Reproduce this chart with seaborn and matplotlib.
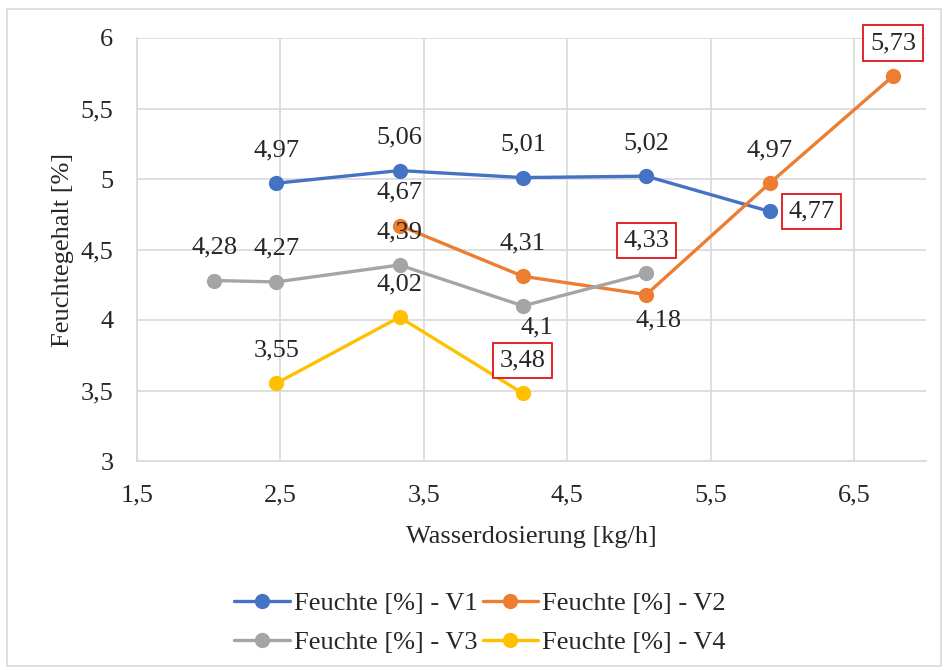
import matplotlib
matplotlib.use("Agg")
import matplotlib.pyplot as plt
import seaborn as sns
import pandas as pd
from matplotlib.lines import Line2D
from matplotlib.patches import Rectangle
from matplotlib.ticker import FuncFormatter, FixedLocator

# ---- data ----
series_names = ["Feuchte [%] - V1", "Feuchte [%] - V2", "Feuchte [%] - V3", "Feuchte [%] - V4"]
x_v1 = [2.47, 3.33, 4.19, 5.05, 5.91]
y_v1 = [4.97, 5.06, 5.01, 5.02, 4.77]
x_v2 = [3.33, 4.19, 5.05, 5.91, 6.77]
y_v2 = [4.67, 4.31, 4.18, 4.97, 5.73]
x_v3 = [2.04, 2.47, 3.33, 4.19, 5.05]
y_v3 = [4.28, 4.27, 4.39, 4.10, 4.33]
x_v4 = [2.47, 3.33, 4.19]
y_v4 = [3.55, 4.02, 3.48]
x_ticks = [1.5, 2.5, 3.5, 4.5, 5.5, 6.5]
y_ticks = [3, 3.5, 4, 4.5, 5, 5.5, 6]
colors = ["#4472C4", "#ED7D31", "#A5A5A5", "#FFC000"]

xs = [x_v1, x_v2, x_v3, x_v4]
ys = [y_v1, y_v2, y_v3, y_v4]

# label placement: (series index, point index) -> (position, boxed)
label_pos = {
    (0, 4): ("right", True),
    (1, 2): ("below_right", False),
    (1, 4): ("above", True),
    (2, 3): ("below_right2", False),
    (2, 4): ("above", True),
    (3, 2): ("above", True),
}

rows = []
for name, xv, yv in zip(series_names, xs, ys):
    for a, b in zip(xv, yv):
        rows.append({"series": name, "x": a, "y": b})
df = pd.DataFrame(rows)

sns.set_theme(style="white")
plt.rcParams["font.family"] = ["Liberation Serif", "DejaVu Serif"]
FS = 19

fig = plt.figure(figsize=(9.49, 6.70), dpi=100)
ax = fig.add_axes([137 / 949, 1 - 461 / 670, (926 - 137) / 949, (461 - 38) / 670])

sns.lineplot(data=df, x="x", y="y", hue="series", hue_order=series_names,
             palette=colors, marker="o", markersize=11, markeredgewidth=0,
             linewidth=2.4, legend=False, ax=ax, zorder=3)

ax.set_xlim(1.5, 7.0)
ax.set_ylim(3, 6)
ax.xaxis.set_major_locator(FixedLocator(x_ticks))
ax.yaxis.set_major_locator(FixedLocator(y_ticks))
fmt = FuncFormatter(lambda v, p: ("%g" % v).replace(".", ","))
ax.xaxis.set_major_formatter(fmt)
ax.yaxis.set_major_formatter(fmt)
ax.grid(True, color="#d9d9d9", linewidth=1.2)
ax.set_axisbelow(True)
for s in ["top", "right"]:
    ax.spines[s].set_visible(False)
for s in ["left", "bottom"]:
    ax.spines[s].set_color("#d9d9d9")
    ax.spines[s].set_linewidth(1.2)
ax.tick_params(axis="both", length=0, labelsize=FS, colors="#262626")
ax.tick_params(axis="x", pad=17)
ax.tick_params(axis="y", pad=17)
ax.set_xlabel("Wasserdosierung [kg/h]", fontsize=FS, color="#262626", labelpad=14)
ax.set_ylabel("Feuchtegehalt [%]", fontsize=FS, color="#262626", labelpad=5)

offsets = {
    "above": ((0, 33), "center", "center"),
    "right": ((42, 0), "center", "center"),
    "below_right": ((12, -26), "center", "center"),
    "below_right2": ((14, -22), "center", "center"),
}
for si, (xv, yv) in enumerate(zip(xs, ys)):
    for pi, (a, b) in enumerate(zip(xv, yv)):
        pos, boxed = label_pos.get((si, pi), ("above", False))
        off, ha, va = offsets[pos]
        txt = ("%g" % b).replace(".", ",")
        bbox = dict(boxstyle="square,pad=0.25", fc="white", ec="#e0141e", lw=1.3) if boxed else None
        ax.annotate(txt, (a, b), xytext=off, textcoords="offset pixels",
                    ha=ha, va=va, fontsize=FS, color="#262626", bbox=bbox, zorder=5)

handles = [Line2D([0], [0], color=c, lw=2.4, marker="o", markersize=11, markeredgewidth=0)
           for c in colors]
order = [0, 2, 1, 3]
fig.legend([handles[i] for i in order], [series_names[i] for i in order],
           loc="center", bbox_to_anchor=(480 / 949, 1 - 623 / 670),
           ncol=2, frameon=False, fontsize=FS, handlelength=2.1, handletextpad=0.15,
           columnspacing=0.2, labelspacing=0.6, labelcolor="#262626")

fig.add_artist(Rectangle((7 / 949, 1 - 666 / 670), (941 - 7) / 949, (666 - 9) / 670,
                         transform=fig.transFigure, fill=False, ec="#d9d9d9", lw=1.2))

fig.savefig("out.png", dpi=100)
